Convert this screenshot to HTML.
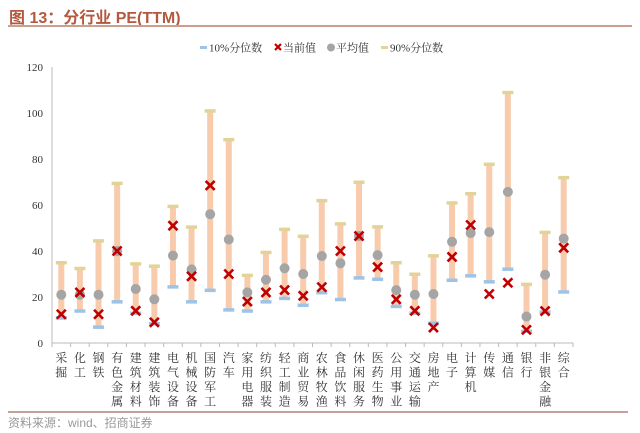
<!DOCTYPE html>
<html><head><meta charset="utf-8"><style>
body{margin:0;background:#fff;width:640px;height:433px;overflow:hidden;font-family:"Liberation Serif","Noto Serif CJK SC",serif}
#title{position:absolute;left:9px;top:4px;font:bold 16px "Liberation Sans","Noto Sans CJK SC",sans-serif;color:#b4583e}
#tline{position:absolute;left:8px;top:25px;width:624px;height:2px;background:#c9a08e}
#bline{position:absolute;left:8px;top:411px;width:620px;height:2px;background:#c7a09c}
#src{position:absolute;left:8px;top:414px;font:12px "Liberation Sans","Noto Sans CJK SC",sans-serif;color:#999}
svg{position:absolute;left:0;top:0}
</style></head><body>
<div id="title">图 13：分行业 PE(TTM)</div>
<div id="tline"></div>
<svg id="chart" width="640" height="433"></svg>
<div id="bline"></div>
<div id="src">资料来源：wind、招商证券</div>
<script>
const categories=["采掘","化工","钢铁","有色金属","建筑材料","建筑装饰","电气设备","机械设备","国防军工","汽车","家用电器","纺织服装","轻工制造","商业贸易","农林牧渔","食品饮料","休闲服务","医药生物","公用事业","交通运输","房地产","电子","计算机","传媒","通信","银行","非银金融","综合"];
const p10=[11,14,7,18,13,8.5,24.5,18,23,14.5,14,18,19.5,16.5,22,19,28.4,27.8,16,13,8.7,27.4,29.3,26.7,32.2,5.2,13.5,22.3];
const current=[12.5,22,12.5,40,14,9,51,29,68.5,30,18,22,23,20.5,24.3,40,46.5,33,19,14,6.7,37.4,51.3,21.3,26.2,5.7,13.9,41.4];
const mean=[21,21,21,40,23.5,19,38,32,56,45,22,27.5,32.5,30,37.8,34.7,46.5,38.2,23,21,21.3,44,47.8,48.2,65.7,11.5,29.7,45.4];
const p90=[35,32.5,44.5,69.5,34.5,33.5,59.5,50.5,101,88.5,29.5,39.5,49.5,46.5,62,51.9,70,50.6,35,30,38,61,65,77.8,109,25.6,48.2,72];
const yTicks=[0,20,40,60,80,100,120];
const NS="http://www.w3.org/2000/svg";
const svg=document.getElementById('chart');
const X0=52,X1=573,Y0=343,Y1=67,yMax=120;
const step=(X1-X0)/categories.length;
const xs=i=>X0+step*(i+0.5);
const ys=v=>Y0-(v/yMax)*(Y0-Y1);
function mk(t,a){const e=document.createElementNS(NS,t);for(const k in a)e.setAttribute(k,a[k]);svg.appendChild(e);return e;}
let e=mk('line',{x1:X0,y1:Y1,x2:X0,y2:Y0,stroke:'#bbb','stroke-width':1});


e=mk('line',{x1:X0,y1:Y0,x2:X1,y2:Y0,stroke:'#bbb','stroke-width':1});


yTicks.forEach(v=>{
  const t=mk('text',{x:X0-9,y:ys(v)+4,'text-anchor':'end','font-size':11,fill:'#333'});
  t.textContent=v;
  
  
});
for(let i=0;i<=categories.length;i++){
  const l=mk('line',{x1:X0+step*i,y1:Y0,x2:X0+step*i,y2:Y0+4,stroke:'#bbb'});
  
  
}
categories.forEach((c,i)=>{
  const x=xs(i);
  const r=mk('rect',{x:x-3,y:ys(p90[i]),width:6,height:ys(p10[i])-ys(p90[i]),fill:'#f8cbad'});
  
  
  const b=mk('rect',{x:x-5.5,y:ys(p10[i])-1.5,width:11,height:3.5,fill:'#9dc3e6'});
  
  
  const y=mk('rect',{x:x-5.5,y:ys(p90[i])-1.5,width:11,height:3.5,fill:'#e2d498'});
  
  
  const m=mk('circle',{cx:x,cy:ys(mean[i]),r:5,fill:'#a5a5a5'});
  
  
  const cy=ys(current[i]);
  const p=mk('path',{d:`M${x-4.5} ${cy-4.5}L${x+4.5} ${cy+4.5}M${x+4.5} ${cy-4.5}L${x-4.5} ${cy+4.5}`,stroke:'#c00000','stroke-width':2.6});
  
  
  [...c].forEach((ch,k)=>{
    const t=mk('text',{x:x,y:362+k*14.5,'text-anchor':'middle','font-size':12,fill:'#333'});
    t.textContent=ch;
    
    
  });
});
const legend=[["10%分位数",'bar','#9dc3e6',200],["当前值",'x','#c00000',274],["平均值",'dot','#a5a5a5',327],["90%分位数",'bar','#e2d498',381]];
legend.forEach(([lab,kind,col,lx])=>{
  const g=document.createElementNS(NS,'g');svg.appendChild(g);
  
  
  let s;
  if(kind==='bar'){s=document.createElementNS(NS,'rect');s.setAttribute('x',lx);s.setAttribute('y',46);s.setAttribute('width',7);s.setAttribute('height',3);s.setAttribute('fill',col);}
  else if(kind==='dot'){s=document.createElementNS(NS,'circle');s.setAttribute('cx',lx+4);s.setAttribute('cy',47.5);s.setAttribute('r',4);s.setAttribute('fill',col);}
  else{s=document.createElementNS(NS,'path');s.setAttribute('d',`M${lx+1} 44L${lx+7} 50M${lx+7} 44L${lx+1} 50`);s.setAttribute('stroke',col);s.setAttribute('stroke-width',2.2);}
  g.appendChild(s);
  const t=document.createElementNS(NS,'text');t.setAttribute('x',lx+9);t.setAttribute('y',51.5);t.setAttribute('font-size',11);t.setAttribute('fill','#333');t.textContent=lab;g.appendChild(t);
});
</script>
</body></html>
